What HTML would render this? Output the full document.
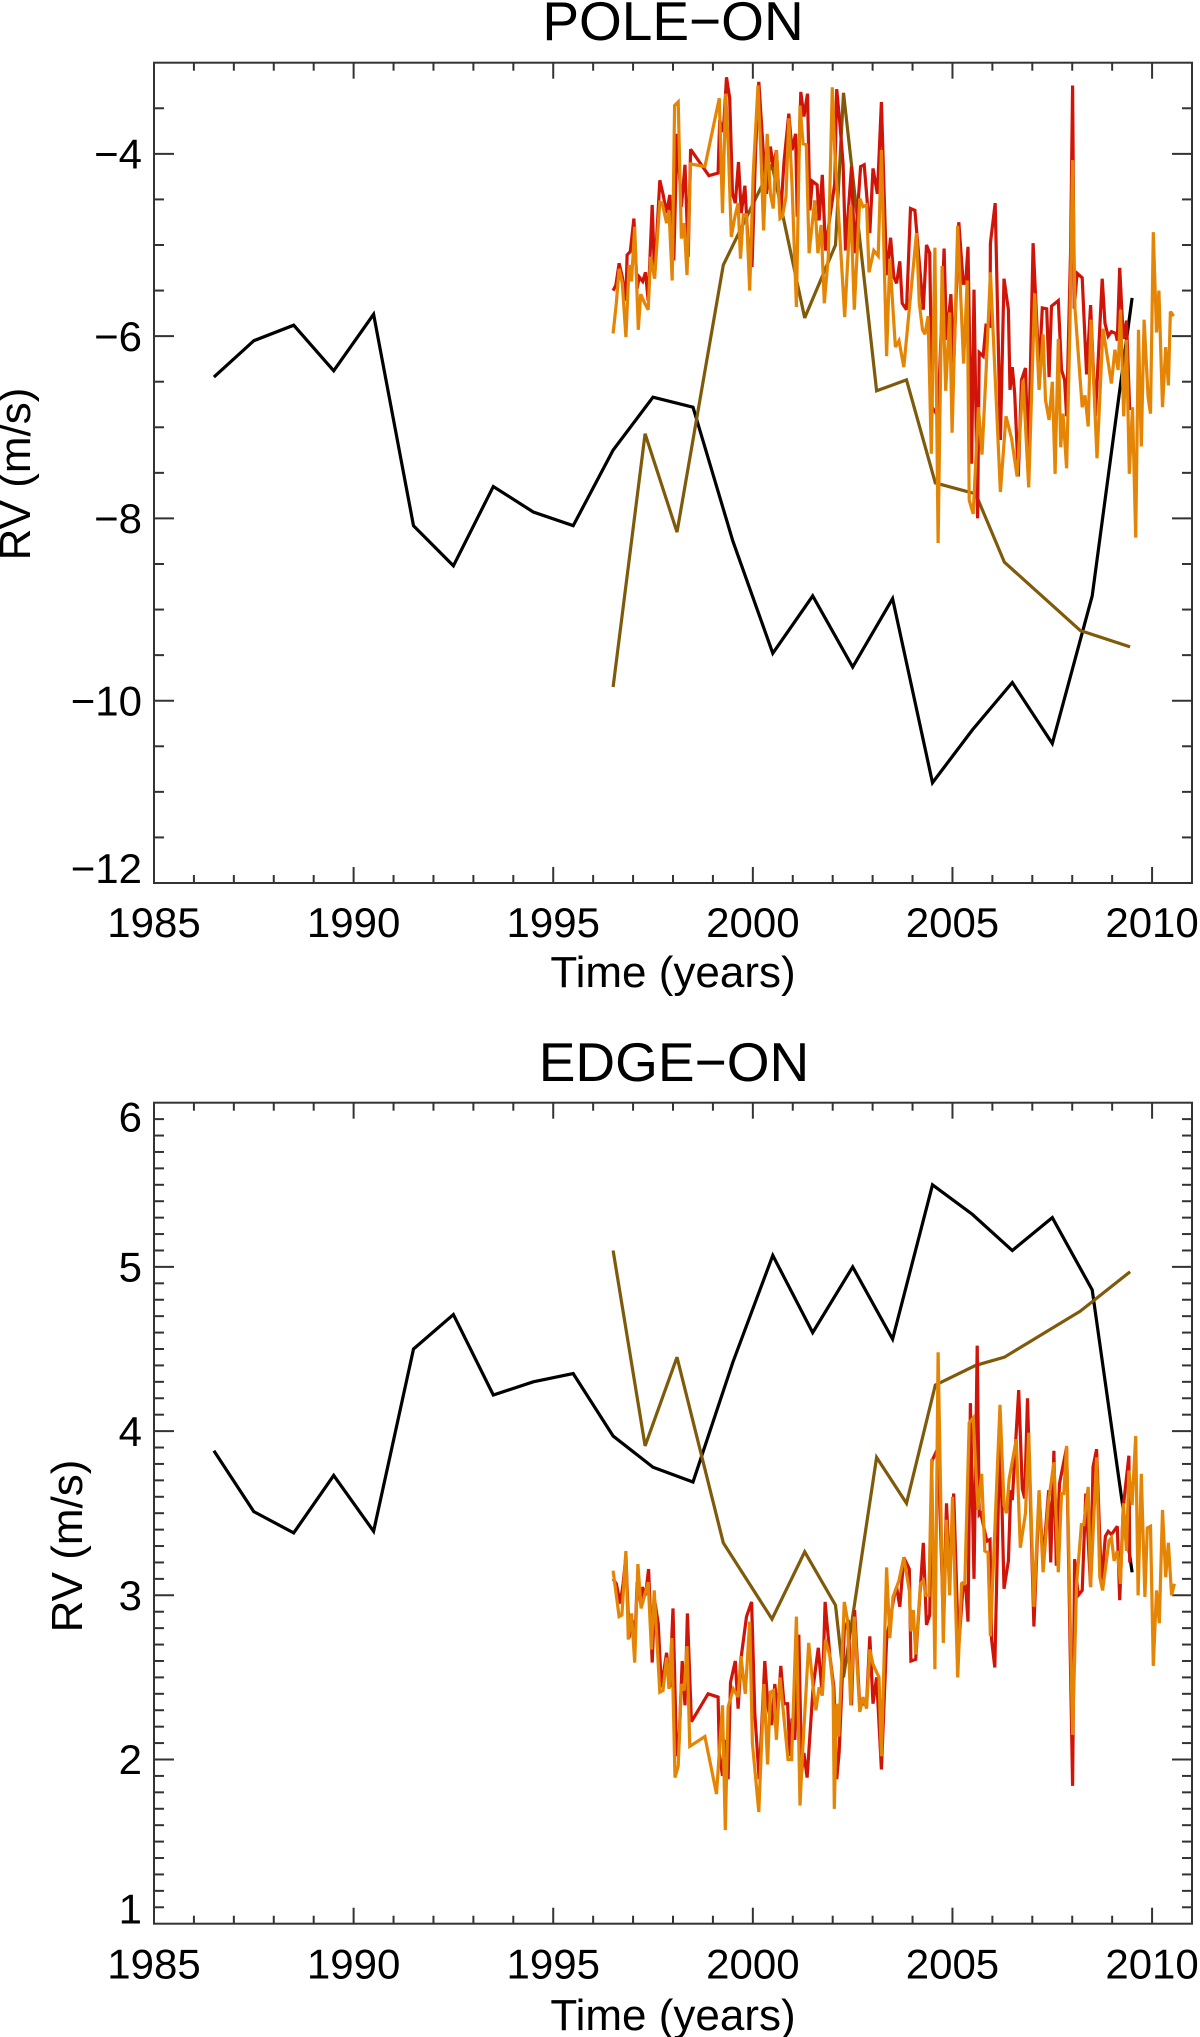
<!DOCTYPE html>
<html lang="en">
<head>
<meta charset="utf-8">
<title>RV pole-on and edge-on</title>
<style>
html,body{margin:0;padding:0;background:#fff;width:1200px;height:2037px;overflow:hidden}
svg{display:block}
text{font-family:"Liberation Sans",Arial,sans-serif;fill:#000}
.tick{font-size:42px}
.axt{font-size:44px}
.ttl{font-size:55px}
</style>
</head>
<body>
<svg id="chart" width="1200" height="2037" viewBox="0 0 1200 2037" xmlns="http://www.w3.org/2000/svg">
<text class="ttl" x="673" y="40" text-anchor="middle">POLE−ON</text>
<text class="ttl" x="674" y="1081" text-anchor="middle">EDGE−ON</text>
<text class="axt" x="673" y="987" text-anchor="middle">Time (years)</text>
<text class="axt" x="673" y="2030" text-anchor="middle">Time (years)</text>
<text class="axt" transform="translate(30 474) rotate(-90)" text-anchor="middle">RV (m/s)</text>
<text class="axt" transform="translate(82 1546) rotate(-90)" text-anchor="middle">RV (m/s)</text>
<g id="pole"></g>
<g id="edge"></g>
</svg>
<script>
const xTickLabels = [1985, 1990, 1995, 2000, 2005, 2010];
const poleYTickLabels = [-4, -6, -8, -10, -12];
const edgeYTickLabels = [1, 2, 3, 4, 5, 6];

const blackYears = [1986.5,1987.5,1988.5,1989.5,1990.5,1991.5,1992.5,1993.5,1994.5,1995.5,1996.5,1997.5,1998.5,1999.5,2000.5,2001.5,2002.5,2003.5,2004.5,2005.5,2006.5,2007.5,2008.5,2009.5];
const poleBlack = [-6.45,-6.05,-5.88,-6.38,-5.76,-8.08,-8.52,-7.65,-7.93,-8.08,-7.25,-6.67,-6.78,-8.25,-9.48,-8.85,-9.63,-8.88,-10.9,-10.32,-9.8,-10.47,-8.85,-5.58];
const edgeBlack = [3.88,3.51,3.38,3.73,3.39,4.5,4.71,4.22,4.30,4.35,3.97,3.78,3.69,4.42,5.07,4.6,5.0,4.56,5.50,5.32,5.10,5.30,4.86,3.14];

const brownYears = [1996.5,1997.3,1998.1,1999.26,2000.48,2001.3,2002.07,2002.27,2003.1,2003.85,2004.57,2005.58,2006.3,2008.2,2009.45];
const poleBrown = [-9.85,-7.07,-8.15,-5.22,-4.12,-5.8,-5.0,-3.33,-6.6,-6.48,-7.61,-7.73,-8.48,-9.23,-9.41];
const edgeBrown = [5.10,3.91,4.45,3.32,2.855,3.265,2.94,2.5,3.84,3.56,4.28,4.40,4.45,4.73,4.97];

const poleRedYears = [1996.50,1996.57,1996.65,1996.73,1996.82,1996.85,1996.93,1997.02,1997.10,1997.15,1997.24,1997.31,1997.38,1997.48,1997.54,1997.67,1997.75,1997.84,1997.92,1998.02,1998.10,1998.21,1998.30,1998.38,1998.44,1998.90,1999.13,1999.17,1999.26,1999.34,1999.42,1999.49,1999.56,1999.64,1999.71,1999.80,1999.88,1999.98,2000.07,2000.15,2000.26,2000.34,2000.44,2000.51,2000.59,2000.69,2000.78,2000.90,2000.98,2001.07,2001.11,2001.20,2001.28,2001.37,2001.43,2001.49,2001.61,2001.66,2001.74,2001.82,2001.93,2002.05,2002.10,2002.18,2002.26,2002.32,2002.47,2002.55,2002.70,2002.79,2002.93,2003.01,2003.12,2003.22,2003.35,2003.45,2003.53,2003.60,2003.68,2003.74,2003.85,2003.95,2004.06,2004.27,2004.35,2004.43,2004.49,2004.64,2004.79,2004.85,2004.96,2005.03,2005.16,2005.27,2005.33,2005.39,2005.48,2005.54,2005.63,2005.67,2005.77,2005.84,2005.94,2005.95,2006.07,2006.20,2006.29,2006.40,2006.44,2006.50,2006.56,2006.65,2006.73,2006.83,2006.90,2007.02,2007.17,2007.25,2007.36,2007.42,2007.48,2007.65,2007.73,2007.81,2007.86,2007.96,2008.01,2008.05,2008.12,2008.25,2008.36,2008.46,2008.58,2008.75,2008.82,2008.90,2008.98,2009.09,2009.13,2009.19,2009.28,2009.36,2009.44];
const poleRed = [-5.50,-5.44,-5.20,-5.35,-5.61,-5.11,-5.07,-4.71,-5.48,-5.35,-5.40,-5.30,-5.61,-4.56,-5.35,-4.29,-4.44,-4.65,-4.45,-5.17,-3.78,-4.58,-4.12,-5.13,-3.95,-4.24,-4.21,-3.63,-3.76,-3.16,-3.39,-4.44,-4.54,-4.09,-4.65,-4.35,-4.98,-5.24,-3.96,-3.21,-3.96,-4.44,-3.92,-4.14,-3.96,-4.71,-4.09,-3.56,-3.96,-3.78,-4.69,-3.32,-3.59,-3.34,-4.62,-4.30,-4.34,-4.73,-4.23,-5.06,-4.69,-4.33,-3.29,-3.67,-4.11,-5.06,-4.14,-5.09,-4.14,-4.12,-4.87,-4.16,-4.44,-3.43,-5.33,-4.92,-5.35,-5.42,-5.18,-5.64,-5.71,-4.60,-4.62,-5.71,-5.00,-5.09,-6.78,-6.88,-5.04,-6.04,-5.54,-6.30,-4.75,-5.42,-5.42,-5.02,-7.40,-5.49,-8.00,-6.18,-6.22,-5.88,-5.89,-4.98,-4.54,-7.14,-5.37,-5.71,-6.59,-6.34,-6.63,-7.54,-6.48,-6.35,-7.43,-4.98,-6.39,-5.69,-5.70,-6.45,-5.67,-5.61,-6.37,-6.48,-6.88,-5.06,-3.25,-5.70,-5.31,-5.36,-6.42,-5.66,-6.88,-5.37,-5.86,-6.00,-5.95,-5.97,-6.05,-5.25,-6.03,-5.83,-6.81];

const poleOrangeYears = [1996.50,1996.58,1996.65,1996.73,1996.82,1996.90,1996.96,1997.04,1997.13,1997.19,1997.29,1997.38,1997.44,1997.54,1997.67,1997.73,1997.84,1997.90,1997.98,1998.04,1998.13,1998.21,1998.28,1998.35,1998.44,1998.80,1999.16,1999.24,1999.32,1999.39,1999.46,1999.55,1999.63,1999.69,1999.76,1999.84,1999.92,2000.01,2000.13,2000.20,2000.27,2000.36,2000.44,2000.51,2000.59,2000.68,2000.74,2000.83,2000.90,2000.98,2001.09,2001.18,2001.26,2001.34,2001.41,2001.55,2001.63,2001.71,2001.79,2001.89,2001.99,2002.05,2002.14,2002.22,2002.30,2002.45,2002.54,2002.68,2002.76,2002.85,2002.91,2003.03,2003.14,2003.22,2003.35,2003.43,2003.57,2003.66,2003.78,2004.10,2004.17,2004.25,2004.31,2004.39,2004.47,2004.56,2004.64,2004.74,2004.83,2004.93,2004.99,2005.13,2005.28,2005.37,2005.42,2005.52,2005.65,2005.74,2005.84,2005.95,2006.20,2006.34,2006.48,2006.62,2006.77,2006.91,2007.06,2007.17,2007.27,2007.33,2007.42,2007.50,2007.57,2007.65,2007.71,2007.77,2007.86,2007.94,2008.01,2008.07,2008.25,2008.32,2008.40,2008.47,2008.62,2008.77,2008.98,2009.07,2009.15,2009.21,2009.29,2009.36,2009.43,2009.51,2009.59,2009.66,2009.73,2009.80,2009.90,2009.96,2010.03,2010.11,2010.17,2010.26,2010.34,2010.41,2010.46,2010.54];
const poleOrange = [-5.97,-5.64,-5.26,-5.42,-6.01,-5.22,-5.40,-4.80,-5.93,-5.54,-5.64,-5.71,-5.13,-5.37,-4.53,-4.54,-4.76,-4.62,-5.39,-3.47,-3.43,-4.93,-4.76,-5.33,-4.11,-4.14,-3.39,-4.65,-3.34,-3.98,-4.91,-4.69,-4.54,-5.15,-4.67,-4.67,-5.50,-4.22,-3.25,-3.96,-4.84,-3.78,-4.44,-4.60,-3.96,-4.71,-4.69,-4.47,-3.61,-4.33,-5.68,-3.47,-3.89,-3.90,-5.09,-4.51,-5.09,-4.78,-5.64,-5.13,-3.27,-3.96,-4.62,-5.20,-5.79,-4.56,-5.71,-4.49,-4.58,-4.56,-5.30,-5.06,-5.12,-3.96,-6.22,-5.15,-6.12,-6.05,-6.34,-4.87,-5.64,-5.93,-5.98,-5.78,-7.29,-5.03,-8.27,-5.23,-6.60,-5.74,-7.06,-4.79,-6.30,-5.39,-7.80,-7.95,-6.78,-7.30,-6.41,-5.30,-7.71,-6.88,-7.12,-7.54,-6.48,-7.66,-5.53,-6.59,-5.98,-6.70,-6.92,-6.50,-7.51,-6.03,-7.22,-6.85,-7.45,-5.97,-4.07,-5.70,-6.78,-6.65,-6.99,-5.82,-7.34,-5.92,-6.52,-6.15,-6.37,-5.71,-6.88,-6.04,-7.51,-6.78,-8.21,-5.93,-7.21,-5.82,-6.67,-6.85,-4.86,-5.96,-5.50,-6.78,-6.12,-6.54,-5.73,-5.78];

const edgeRedYears = [1996.50,1996.58,1996.68,1996.75,1996.82,1996.90,1996.98,1997.04,1997.10,1997.19,1997.23,1997.31,1997.39,1997.48,1997.54,1997.63,1997.71,1997.84,1997.92,1998.00,1998.09,1998.15,1998.23,1998.30,1998.36,1998.46,1998.88,1999.13,1999.16,1999.24,1999.30,1999.38,1999.44,1999.56,1999.63,1999.71,1999.84,1999.97,2000.05,2000.16,2000.30,2000.38,2000.47,2000.55,2000.62,2000.70,2000.78,2000.87,2000.93,2000.98,2001.05,2001.15,2001.22,2001.28,2001.36,2001.51,2001.64,2001.74,2001.81,2001.93,2002.03,2002.10,2002.16,2002.29,2002.39,2002.47,2002.55,2002.68,2002.76,2002.85,2002.93,2003.01,2003.10,2003.22,2003.35,2003.55,2003.60,2003.68,2003.78,2003.92,2003.96,2004.08,2004.27,2004.35,2004.43,2004.49,2004.64,2004.77,2004.85,2004.93,2005.03,2005.15,2005.27,2005.33,2005.39,2005.45,2005.54,2005.62,2005.67,2005.71,2005.86,2005.94,2005.98,2006.06,2006.19,2006.29,2006.40,2006.46,2006.50,2006.66,2006.75,2006.81,2006.88,2007.04,2007.17,2007.27,2007.41,2007.46,2007.54,2007.60,2007.68,2007.86,2008.01,2008.06,2008.15,2008.25,2008.34,2008.46,2008.52,2008.61,2008.73,2008.83,2008.90,2008.98,2009.13,2009.19,2009.28,2009.42,2009.44];
const edgeRed = [3.10,3.07,2.95,3.07,3.24,2.74,2.85,2.67,3.08,2.95,3.05,3.00,3.16,2.59,2.97,2.83,2.44,2.65,2.44,2.92,2.02,2.10,2.60,2.33,2.89,2.23,2.40,2.38,2.04,1.90,2.12,1.88,2.47,2.60,2.31,2.63,2.87,2.96,2.28,1.88,2.60,2.32,2.21,2.46,2.28,2.57,2.34,2.34,2.02,2.25,2.12,2.76,1.92,2.04,1.89,2.44,2.68,2.39,2.96,2.63,2.44,1.88,2.04,2.79,2.85,2.33,2.91,2.32,2.34,2.34,2.75,2.34,2.50,1.94,2.73,3.01,3.05,2.93,3.23,3.16,2.60,2.61,3.32,2.82,2.88,3.82,3.90,2.85,3.56,3.13,3.62,2.67,3.07,3.06,2.84,4.17,3.10,4.52,3.49,3.50,3.33,3.34,2.73,2.56,4.03,3.04,3.21,3.64,3.58,4.25,3.65,3.59,4.20,2.81,3.62,3.21,3.64,3.20,3.88,3.18,3.68,3.90,1.84,3.22,3.00,3.03,3.62,3.05,3.78,3.89,3.07,3.36,3.39,3.37,3.42,2.97,3.54,3.85,3.20];

const edgeOrangeYears = [1996.50,1996.65,1996.72,1996.82,1996.88,1996.96,1997.04,1997.12,1997.20,1997.38,1997.46,1997.53,1997.67,1997.75,1997.84,1997.90,1997.97,1998.05,1998.13,1998.21,1998.28,1998.35,1998.42,1998.80,1999.09,1999.24,1999.31,1999.38,1999.51,1999.63,1999.70,1999.81,1999.92,1999.99,2000.15,2000.28,2000.37,2000.44,2000.52,2000.59,2000.68,2000.76,2000.88,2000.97,2001.09,2001.18,2001.24,2001.40,2001.51,2001.58,2001.66,2001.74,2001.82,2001.93,2002.01,2002.04,2002.10,2002.15,2002.29,2002.37,2002.45,2002.54,2002.68,2002.76,2002.85,2002.93,2003.01,2003.16,2003.22,2003.35,2003.43,2003.51,2003.66,2003.78,2003.92,2003.96,2004.02,2004.08,2004.20,2004.27,2004.33,2004.41,2004.48,2004.56,2004.64,2004.77,2004.85,2004.93,2005.00,2005.13,2005.23,2005.31,2005.42,2005.52,2005.64,2005.73,2005.81,2005.89,2005.95,2006.19,2006.29,2006.35,2006.42,2006.60,2006.70,2006.83,2006.91,2007.04,2007.17,2007.27,2007.40,2007.54,2007.65,2007.73,2007.79,2007.86,2008.01,2008.11,2008.23,2008.29,2008.40,2008.46,2008.61,2008.69,2008.76,2008.92,2008.98,2009.05,2009.13,2009.21,2009.28,2009.36,2009.42,2009.50,2009.59,2009.65,2009.73,2009.82,2009.88,2009.96,2010.03,2010.11,2010.18,2010.26,2010.34,2010.41,2010.49,2010.56];
const edgeOrange = [3.15,2.87,2.88,3.27,2.73,2.89,2.59,3.19,2.92,3.08,2.67,3.03,2.41,2.42,2.62,2.43,2.74,1.89,1.96,2.46,2.42,2.69,2.08,2.14,1.79,2.33,1.57,2.32,2.43,2.38,2.63,2.40,2.84,2.10,1.68,2.46,1.97,2.41,2.42,2.12,2.50,2.30,2.00,2.00,2.87,1.72,2.02,2.71,2.44,2.30,2.44,2.39,2.73,2.63,2.44,1.70,2.34,2.14,2.96,2.85,2.33,2.87,2.29,2.38,2.31,2.67,2.58,2.50,2.02,3.17,2.74,2.99,3.09,3.23,3.03,2.78,2.91,2.64,3.07,3.09,3.00,3.00,3.83,2.55,4.48,2.71,3.46,3.00,3.60,2.50,3.07,3.07,4.05,4.08,3.52,3.74,3.27,3.26,2.75,4.16,3.55,3.50,3.71,3.95,3.29,3.50,3.99,2.93,3.64,3.14,3.56,3.81,3.14,3.62,3.62,3.91,2.15,3.07,3.43,3.43,3.66,3.05,3.84,3.11,3.03,3.33,3.35,3.21,3.27,3.07,3.56,3.27,3.76,3.55,3.97,3.00,3.74,2.99,3.41,3.42,2.57,3.03,2.83,3.52,3.11,3.32,3.00,3.07];

const NS = 'http://www.w3.org/2000/svg';
const AXIS_COLOR = '#333333';
const LEFT = 154, RIGHT = 1192, X_MIN = 1985, X_MAX = 2011;

function xAxis(year) {
  return LEFT + (year - X_MIN) * (RIGHT - LEFT) / (X_MAX - X_MIN);
}
function makeYAxis(vMin, vMax, top, bottom) {
  return function (v) {
    return bottom - (v - vMin) * (bottom - top) / (vMax - vMin);
  };
}
function addLine(parent, x1, y1, x2, y2) {
  const el = document.createElementNS(NS, 'line');
  el.setAttribute('x1', x1);
  el.setAttribute('y1', y1);
  el.setAttribute('x2', x2);
  el.setAttribute('y2', y2);
  el.setAttribute('stroke', AXIS_COLOR);
  el.setAttribute('stroke-width', '2');
  parent.appendChild(el);
  return el;
}
function addLabel(parent, x, y, anchor, str) {
  const el = document.createElementNS(NS, 'text');
  el.setAttribute('class', 'tick');
  el.setAttribute('x', x);
  el.setAttribute('y', y);
  el.setAttribute('text-anchor', anchor);
  el.textContent = str;
  parent.appendChild(el);
  return el;
}
function addSeries(parent, years, values, yAxis, color, name) {
  const el = document.createElementNS(NS, 'polyline');
  el.setAttribute('points', years.map(function (t, i) {
    return xAxis(t).toFixed(1) + ',' + yAxis(values[i]).toFixed(1);
  }).join(' '));
  el.setAttribute('fill', 'none');
  el.setAttribute('stroke', color);
  el.setAttribute('stroke-width', '3.2');
  el.setAttribute('stroke-linejoin', 'miter');
  el.setAttribute('stroke-miterlimit', '3');
  
  
  parent.appendChild(el);
}
function drawFrame(panel, opts) {
  const y = opts.y, top = opts.top, bottom = opts.bottom;
  for (let yr = X_MIN; yr <= X_MAX; yr++) {
    if (yr === X_MIN || yr === X_MAX) continue;
    const len = yr % 5 === 0 ? 16 : 8;
    const x = xAxis(yr);
    const tb = addLine(panel, x, bottom, x, bottom - len);
    
    
    const tt = addLine(panel, x, top, x, top + len);
    
    
  }
  xTickLabels.forEach(function (yr) {
    const lab = addLabel(panel, xAxis(yr), bottom + opts.xLabelGap, 'middle', String(yr));
    
    
  });
  for (let i = 0; i <= opts.tickCount; i++) {
    const v = opts.vMin + i * opts.step;
    const isMajor = opts.majors.some(function (m) { return Math.abs(m - v) < 1e-6; });
    const len = isMajor ? 20 : 10;
    const py = y(v);
    if (i === 0 || i === opts.tickCount) continue;
    const tl = addLine(panel, LEFT, py, LEFT + len, py);
    
    
    const tr = addLine(panel, RIGHT, py, RIGHT - len, py);
    
    
  }
  opts.majors.forEach(function (v) {
    let py = y(v) + 14.7;
    if (Math.abs(y(v) - bottom) < 1) py = bottom;
    if (Math.abs(y(v) - top) < 1) py = top + 29;
    const str = (v < 0 ? '\u2212' + Math.abs(v) : String(v));
    const lab = addLabel(panel, 142, py, 'end', str);
    
    
  });
  const frame = document.createElementNS(NS, 'rect');
  frame.setAttribute('x', LEFT);
  frame.setAttribute('y', top);
  frame.setAttribute('width', RIGHT - LEFT);
  frame.setAttribute('height', bottom - top);
  frame.setAttribute('fill', 'none');
  frame.setAttribute('stroke', AXIS_COLOR);
  frame.setAttribute('stroke-width', '2');
  
  
  panel.appendChild(frame);
}

const poleG = document.getElementById('pole');
const poleY = makeYAxis(-12, -3, 62.7, 883);
drawFrame(poleG, { y: poleY, top: 62.7, bottom: 883, vMin: -12, step: 0.5, tickCount: 18, majors: poleYTickLabels, xLabelGap: 54 });
addSeries(poleG, blackYears, poleBlack, poleY, '#000000', 'pole-black-series');
addSeries(poleG, brownYears, poleBrown, poleY, '#7f5a0a', 'pole-brown-series');
addSeries(poleG, poleRedYears, poleRed, poleY, '#d01408', 'pole-red-series');
addSeries(poleG, poleOrangeYears, poleOrange, poleY, '#e58505', 'pole-orange-series');

const edgeG = document.getElementById('edge');
const edgeY = makeYAxis(1, 6, 1102.7, 1923.7);
drawFrame(edgeG, { y: edgeY, top: 1102.7, bottom: 1923.7, vMin: 1, step: 0.1, tickCount: 50, majors: edgeYTickLabels, xLabelGap: 55 });
addSeries(edgeG, blackYears, edgeBlack, edgeY, '#000000', 'edge-black-series');
addSeries(edgeG, brownYears, edgeBrown, edgeY, '#7f5a0a', 'edge-brown-series');
addSeries(edgeG, edgeRedYears, edgeRed, edgeY, '#d01408', 'edge-red-series');
addSeries(edgeG, edgeOrangeYears, edgeOrange, edgeY, '#e58505', 'edge-orange-series');
</script>
</body>
</html>
